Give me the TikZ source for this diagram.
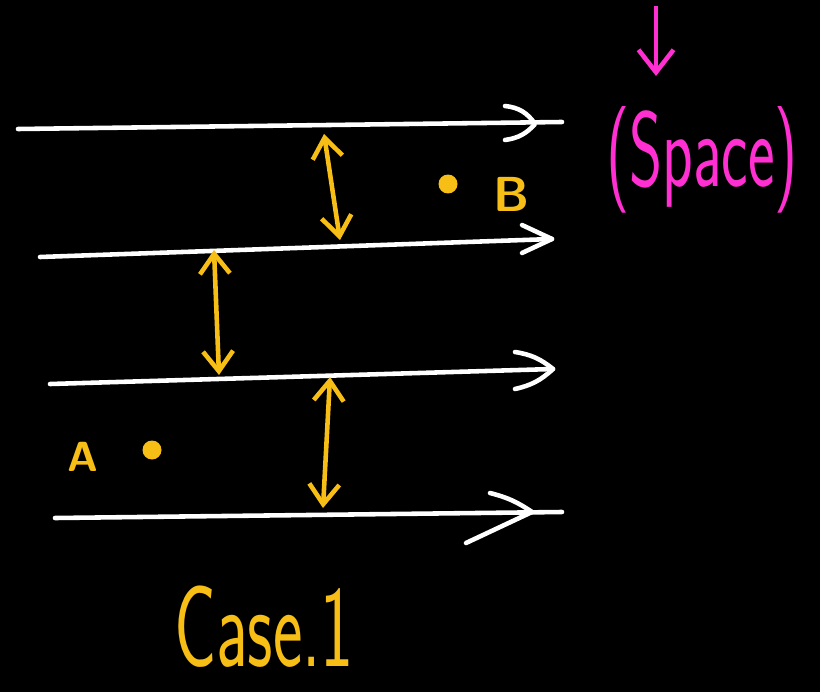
\documentclass[tikz,border=0pt]{standalone}
\usepackage{fontspec}
\setmainfont{Liberation Sans}
\usetikzlibrary{arrows.meta, calc}
\definecolor{chalkyellow}{HTML}{F7BE16}
\definecolor{chalkpink}{HTML}{FF2FD2}
\tikzset{
  field/.style={line width=2.6pt, color=white, line cap=round, line join=round},
  gaparrow/.style={{Straight Barb[length=4mm, width=6mm]}-{Straight Barb[length=4mm, width=6mm]}, line width=2.6pt, color=chalkyellow},
  pointer/.style={-{Straight Barb[length=4.5mm, width=7mm]}, line width=2.6pt, color=chalkpink},
  charge/.style={circle, fill=chalkyellow, inner sep=0pt, minimum size=0.38cm},
  every node/.append style={font=\sffamily}
}

\begin{document}
\begin{tikzpicture}[x=0.02cm, y=-0.02cm]
\fill[black] (0,0) rectangle (820,692);
% field lines
\coordinate (L1s) at (18,129);  \coordinate (L1t) at (535,124); \coordinate (L1e) at (562,122);
\coordinate (L2s) at (40,257);  \coordinate (L2t) at (552,239); \coordinate (L2e) at (552,239);
\coordinate (L3s) at (50,384);  \coordinate (L3t) at (553,369); \coordinate (L3e) at (553,369);
\coordinate (L4s) at (55,518);  \coordinate (L4t) at (532,512); \coordinate (L4e) at (562,512);
\draw[field] (L1s) -- (L1e);
\draw[field] (L2s) -- (L2e);
\draw[field] (L3s) -- (L3e);
\draw[field] (L4s) -- (L4e);
\draw[field] ($(L1t)+(-30,-18)$) to[bend left=25] (L1t) to[bend left=20] ($(L1t)+(-30,16)$);
\draw[field] ($(L2t)+(-30,-14)$) -- (L2t) -- ($(L2t)+(-30,14)$);
\draw[field] ($(L3t)+(-38,-17)$) to[bend left=15] (L3t) to[bend left=15] ($(L3t)+(-38,20)$);
\draw[field] ($(L4t)+(-42,-19)$) to[bend left=10] (L4t) -- ($(L4t)+(-66,31)$);
% gaps between lines
\coordinate (G1a) at (324,134); \coordinate (G1b) at (340,240);
\coordinate (G2a) at (214,250); \coordinate (G2b) at (219,375);
\coordinate (G3a) at (330,377); \coordinate (G3b) at (323,508);
\draw[gaparrow] (G1a) -- (G1b);
\draw[gaparrow] (G2a) -- (G2b);
\draw[gaparrow] (G3a) -- (G3b);
% points
\node[charge] (B) at (448,184) {};
\node[text=chalkyellow, font=\sffamily\bfseries\fontsize{28}{28}\selectfont] (Blbl) at (512,194) {B};
\node[charge] (A) at (152,450) {};
\node[text=chalkyellow, font=\sffamily\bfseries\fontsize{24}{24}\selectfont] (Albl) at (83,457) {A};
% labels
\node[text=chalkyellow, font=\sffamily\fontsize{40}{40}\selectfont] (case) at (264,627) {\scalebox{1}[1.65]{Case.1}};
\node[text=chalkpink, font=\sffamily\fontsize{38}{38}\selectfont] (space) at (702,160) {\scalebox{0.95}[1.6]{(Space)}};
\coordinate (Ptop) at (656,6);
\coordinate (Pbot) at (656,76);
\draw[pointer] (Ptop) -- (Pbot);
\end{tikzpicture}
\end{document}
